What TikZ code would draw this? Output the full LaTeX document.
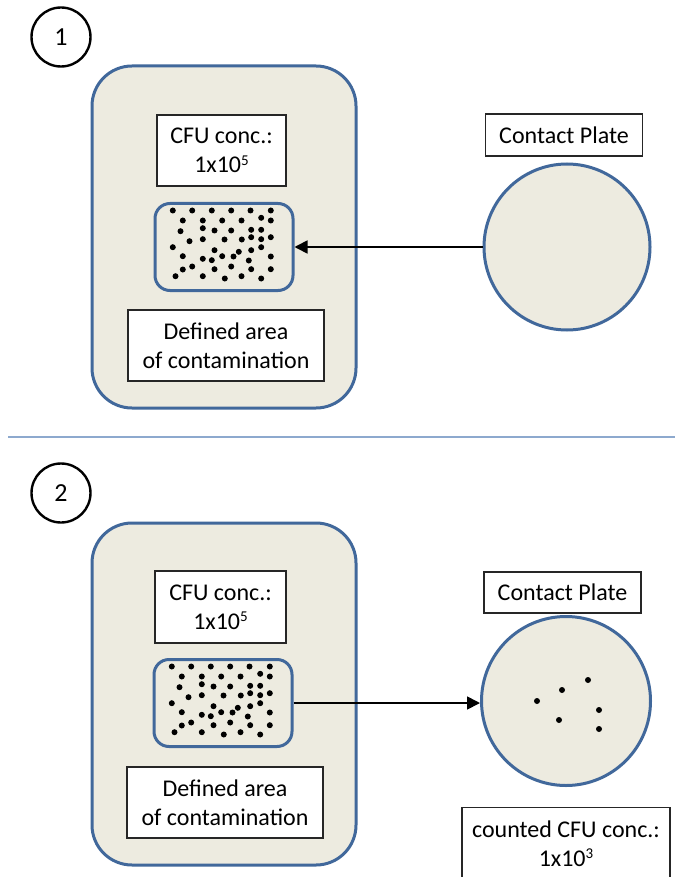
\documentclass[tikz,border=0pt]{standalone}
\usepackage{fontspec}
\setmainfont{Carlito}
\usetikzlibrary{arrows.meta}
\definecolor{panelfill}{RGB}{237,235,224}
\definecolor{panelblue}{RGB}{65,104,155}
\definecolor{rulecolor}{RGB}{141,169,206}

% dot pattern of the contaminated area, offsets from the area centre
\newcommand{\cfupattern}{%
  -51.2/-36.5, -31.8/-36.5, -12.2/-36.5, 7.2/-36.5, 26.5/-36.5, 46.8/-36.5,
  -41.2/-26.5, -21.2/-26.5, -1.8/-26.5, 17.5/-26.5, 37.2/-29.2, 46.8/-26.5,
  -43.5/-15.8, -21.2/-18.8, -9.5/-16.5, 7.2/-16.5, 27.2/-17.2, 37.2/-17.2,
  -34.5/-5.8, -21.2/-7.8, 0.5/-7.5, 17.8/-7.5, 27.2/-9.8, 37.2/-7.8, 46.8/-9.8,
  -51.2/0.2, -9.5/3.2, 14.8/4.8, 27.2/3.2, 37.2/0.2,
  -41.2/9.2, -21.2/11.8, -12.2/13.2, -1.8/9.2, 9.5/9.5, 24.8/13.5, 46.8/9.5,
  -41.2/22.5, -31.8/19.5, -9.5/22.2, 7.2/19.5, 27.2/22.2, 46.8/22.2,
  -48.5/29.2, -21.2/29.2, 0.8/31.5, 17.5/29.2, 37.2/31.5}
% superscript exponent set close to the digits
\newcommand{\expo}[1]{\raisebox{0.32em}{\fontsize{15}{15}\selectfont #1}}

\begin{document}
\begin{tikzpicture}[x=1pt,y=-1pt,
  font=\fontsize{24}{29}\selectfont,
  stepnum/.style={circle,draw=black,line width=2.4pt,minimum size=59pt,inner sep=0pt,
    font=\fontsize{26}{26}\selectfont},
  panel/.style={draw=panelblue,fill=panelfill,line width=3pt,rounded corners=40pt,
    minimum width=264pt,minimum height=342pt},
  labelbox/.style={draw=black!85,fill=white,line width=1.2pt,align=center,inner sep=0pt},
  area/.style={draw=panelblue,fill=panelfill,line width=3pt,rounded corners=15pt,
    minimum width=138pt,minimum height=87pt},
  plate/.style={circle,draw=panelblue,fill=panelfill,line width=3pt,
    minimum size=166pt,inner sep=0pt},
  link/.style={line width=1.7pt,-{Triangle[length=13pt,width=13pt]}},
]
\clip (0,0) rectangle (675,877);
\fill[white] (0,0) rectangle (675,877);

% ---------- step 1: contact plate pressed onto the area ----------
\node[stepnum] (stepA) at (61,37) {1};
\node[panel] (panelA) at (224,237) {};
\node[labelbox,minimum width=129pt,minimum height=71pt] (cfuA) at (221.5,150.5)
  {CFU conc.:\\1x10\expo{5}};
\node[area] (areaA) at (224,247) {};
\foreach \dx/\dy in \cfupattern
  \fill ([shift={(\dx,\dy)}]areaA.center) circle[radius=3pt];
\node[labelbox,minimum width=196pt,minimum height=71pt] (defA) at (226,345.5)
  {Defined area\\of contamination};
\node[labelbox,minimum width=157pt,minimum height=42pt] (plateLabelA) at (564,135)
  {Contact Plate};
\node[plate] (plateA) at (567,247) {};
\draw[link] (plateA.west) -- (areaA.east);

% ---------- separator ----------
\draw[rulecolor,line width=1.6pt] (8,437) -- (675,437);

% ---------- step 2: colonies transferred to the plate ----------
\node[stepnum] (stepB) at (61,493) {2};
\node[panel] (panelB) at (224,694) {};
\node[labelbox,minimum width=131pt,minimum height=72pt] (cfuB) at (220.5,607)
  {CFU conc.:\\1x10\expo{5}};
\node[area] (areaB) at (223,703) {};
\foreach \dx/\dy in \cfupattern
  \fill ([shift={(\dx,\dy)}]areaB.center) circle[radius=3pt];
\node[labelbox,minimum width=196pt,minimum height=71pt] (defB) at (225,802.5)
  {Defined area\\of contamination};
\node[labelbox,minimum width=157pt,minimum height=41pt] (plateLabelB) at (562.5,592.5)
  {Contact Plate};
\node[plate,minimum size=169pt] (plateB) at (566,701) {};
\foreach \dx/\dy in {-29/0, -4/-11, 22/-21, 33/9, -7/19, 33/28}
  \fill ([shift={(\dx,\dy)}]plateB.center) circle[radius=3pt];
\draw[link] (areaB.east) -- (areaB.east -| plateB.west);
\node[labelbox,anchor=north,minimum width=208pt,minimum height=72pt] (countB) at (566,807)
  {counted CFU conc.:\\1x10\expo{3}};
\end{tikzpicture}
\end{document}
